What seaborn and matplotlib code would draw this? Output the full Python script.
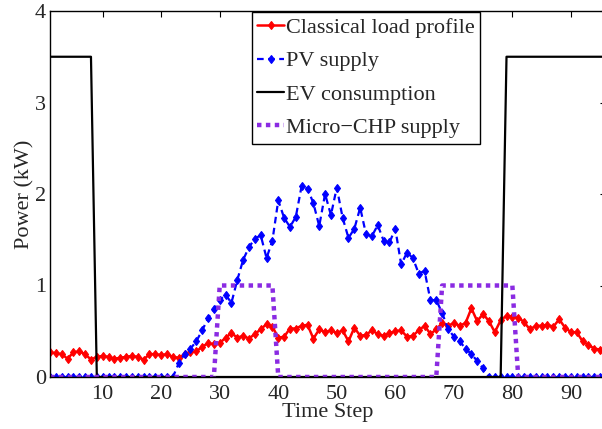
import numpy as np
import pandas as pd
import matplotlib
matplotlib.use("Agg")
import matplotlib.pyplot as plt
import seaborn as sns

# time steps (15-min slots over a day)
time_step = list(range(1, 97))

# classical household load (kW)
load_profile = [
    0.27, 0.26, 0.25, 0.20, 0.27, 0.28, 0.25, 0.19, 0.22, 0.23,
    0.22, 0.20, 0.21, 0.22, 0.23, 0.22, 0.19, 0.25, 0.25, 0.24,
    0.25, 0.22, 0.21, 0.25, 0.27, 0.28, 0.33, 0.37, 0.36, 0.37,
    0.43, 0.48, 0.43, 0.45, 0.42, 0.47, 0.52, 0.58, 0.55, 0.43,
    0.44, 0.53, 0.53, 0.56, 0.57, 0.42, 0.52, 0.49, 0.51, 0.48,
    0.51, 0.39, 0.54, 0.45, 0.46, 0.51, 0.47, 0.45, 0.48, 0.50,
    0.51, 0.44, 0.45, 0.51, 0.56, 0.47, 0.52, 0.59, 0.56, 0.59,
    0.56, 0.59, 0.75, 0.61, 0.69, 0.61, 0.49, 0.62, 0.67, 0.66,
    0.65, 0.60, 0.52, 0.56, 0.56, 0.57, 0.55, 0.63, 0.54, 0.49,
    0.49, 0.39, 0.35, 0.31, 0.30, 0.27,
]

pv_supply = [0.0] * 22 + [
    0.15, 0.25, 0.31, 0.39, 0.51, 0.64, 0.74, 0.84, 0.90, 0.81,
    1.06, 1.28, 1.42, 1.51, 1.55, 1.30, 1.49, 1.93, 1.74, 1.64,
    1.75, 2.09, 2.06, 1.90, 1.65, 2.00, 1.77, 2.07, 1.74, 1.52,
    1.62, 1.85, 1.56, 1.54, 1.66, 1.49, 1.47, 1.62, 1.23, 1.36,
    1.30, 1.13, 1.16, 0.84, 0.84, 0.70, 0.53, 0.44, 0.39, 0.31,
    0.25, 0.175, 0.095,
] + [0.0] * 21

ev_consumption = [3.5] * 8 + [0.0] * 70 + [3.5] * 18

chp_supply = [0.0] * 29 + [1.0] * 10 + [0.0] * 28 + [1.0] * 13 + [0.0] * 16

df = pd.DataFrame({
    "t": time_step,
    "load": load_profile,
    "pv": pv_supply,
    "ev": ev_consumption,
    "chp": chp_supply,
})

sns.set_style("white")
plt.rcParams["font.family"] = ["Liberation Serif", "DejaVu Serif"]

FS = 16

fig = plt.figure(figsize=(6.02, 4.29), dpi=100)
ax = fig.add_axes([50 / 602, 52 / 429, 556 / 602, 366 / 429])

sns.lineplot(data=df, x="t", y="load", ax=ax, color="#ff0000", lw=1.8,
             marker="d", markersize=4.5, markeredgecolor="#ff0000",
             markeredgewidth=0.8, label="Classical load profile")
sns.lineplot(data=df, x="t", y="pv", ax=ax, color="#0000ff", lw=1.6,
             linestyle=(0, (3.0, 2.0)), marker="d", markersize=4.5,
             markeredgecolor="#0000ff", markeredgewidth=0.8,
             label="PV supply")
sns.lineplot(data=df, x="t", y="ev", ax=ax, color="black", lw=1.6,
             label="EV consumption")
sns.lineplot(data=df, x="t", y="chp", ax=ax, color="#8a2be2", lw=3.2,
             linestyle=(0, (1.0, 1.0)), label="Micro\u2212CHP supply")

ax.set_xlim(1, 96)
ax.set_ylim(0, 4)
ax.set_xticks(range(10, 100, 10))
ax.set_yticks(range(0, 5))
ax.tick_params(direction="in", top=True, right=True, length=4, width=0.8,
               labelsize=FS, color="black")
ax.tick_params(axis="x", pad=6)
ax.tick_params(axis="y", pad=3)
for s in ax.spines.values():
    s.set_color("black")
    s.set_linewidth(1.0)

ax.set_xlabel("Time Step", fontsize=FS, labelpad=-1)
ax.set_ylabel("Power (kW)", fontsize=FS, labelpad=0)

leg = ax.legend(loc="upper left", bbox_to_anchor=(0.363, 0.998),
                fontsize=FS, frameon=True, fancybox=False, framealpha=1,
                edgecolor="black", borderpad=0.25, labelspacing=0.58,
                handlelength=1.2, handletextpad=0.08, borderaxespad=0)
leg.get_frame().set_linewidth(1.0)

fig.savefig("out.png", dpi=100)
